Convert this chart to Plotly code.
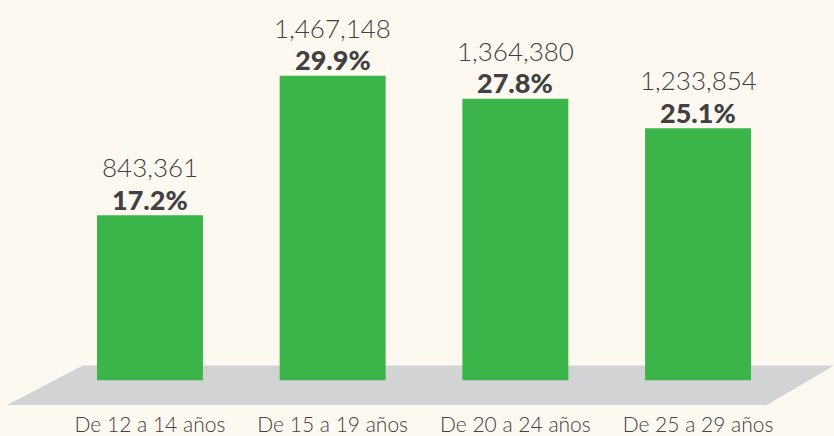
import plotly.graph_objects as go

categories = ["De 12 a 14 años", "De 15 a 19 años", "De 20 a 24 años", "De 25 a 29 años"]
counts = [843361, 1467148, 1364380, 1233854]
percents = [17.2, 29.9, 27.8, 25.1]
count_labels = ["843,361", "1,467,148", "1,364,380", "1,233,854"]
pct_labels = ["17.2%", "29.9%", "27.8%", "25.1%"]

BG = "#fdf9f1"
GREEN = "#3bb54a"
FLOOR = "#d1d3d4"
TEXT = "#414042"
W, H = 834, 436

bar_base = 2.16
bars_top = [p - bar_base for p in percents]

fig = go.Figure()
fig.add_trace(go.Bar(
    x=categories, y=bars_top, base=bar_base,
    marker=dict(color=GREEN, line=dict(width=0)),
    width=0.58, hoverinfo="skip",
))

annotations = []
for c, p, cl, pl in zip(categories, percents, count_labels, pct_labels):
    annotations.append(dict(x=c, y=p, xref="x", yref="y", text=cl, showarrow=False,
                            yanchor="middle", yshift=48,
                            font=dict(family="Lato", size=26, color=TEXT, weight=300)))
    annotations.append(dict(x=c, y=p, xref="x", yref="y", text=pl, showarrow=False,
                            yanchor="middle", yshift=16,
                            font=dict(family="Lato", size=27, color=TEXT, weight=900)))

# floor parallelogram (paper coords, margins zero except bottom)
plot_h = 409
def px(xp):
    return xp / W
def py(yp):
    return (plot_h - yp) / plot_h

floor_path = "M {} {} L {} {} L {} {} L {} {} Z".format(
    px(83), py(369), px(834), py(369), px(767), py(409), px(7), py(409))

fig.update_layout(
    width=W, height=H,
    paper_bgcolor=BG, plot_bgcolor=BG,
    margin=dict(l=0, r=0, t=0, b=H - plot_h, pad=0),
    showlegend=False,
    xaxis=dict(domain=[58.6 / W, 789.4 / W], range=[-0.5, 3.5], showgrid=False,
               zeroline=False, showline=False, ticks="",
               tickfont=dict(family="Lato", size=21, color=TEXT, weight=300),
               ticklabelstandoff=5, fixedrange=True),
    yaxis=dict(range=[-0.09, 36.79], visible=False, showgrid=False, zeroline=False,
               fixedrange=True),
    shapes=[dict(type="path", xref="paper", yref="paper", path=floor_path,
                 fillcolor=FLOOR, line=dict(width=0), layer="below")],
    annotations=annotations,
)

fig.write_html("out.html", config={"displayModeBar": False},
               post_script="document.body.style.margin='0';document.body.style.background='" + BG + "';")
